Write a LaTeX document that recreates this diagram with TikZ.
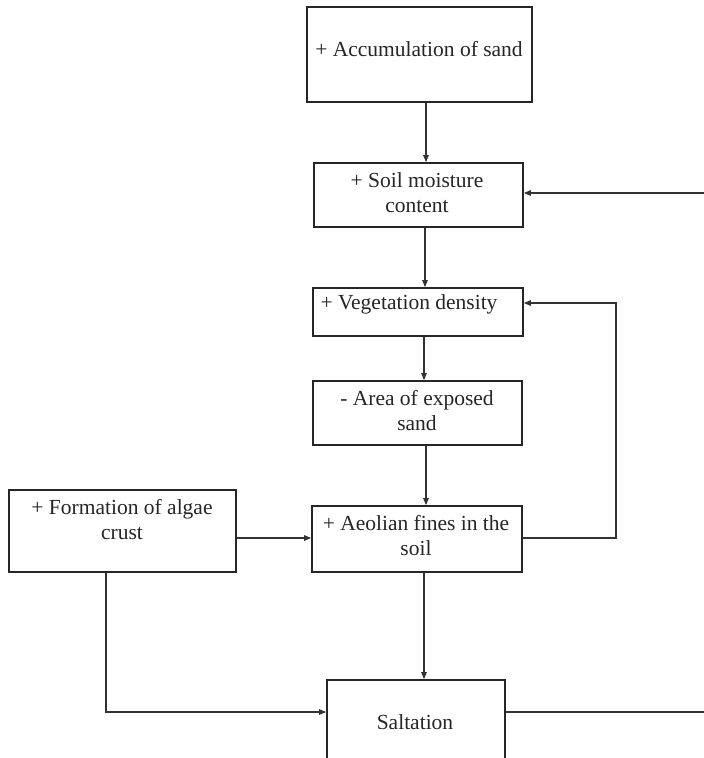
\documentclass[tikz,border=0pt]{standalone}
\usepackage{fontspec}
\setmainfont{Liberation Serif}
\usetikzlibrary{arrows.meta}
\begin{document}
\begin{tikzpicture}[x=1pt,y=-1pt,
  box/.style={draw=black!85, line width=1.7pt, inner sep=0pt, fill=none},
  lbl/.style={font=\fontsize{21.5}{25}\selectfont, align=center, inner sep=0pt, text=black!85},
  conn/.style={draw=black!80, line width=1.1pt, -{Triangle[length=7pt,width=5.5pt]}},
  link/.style={draw=black!80, line width=1.1pt}]
\clip (0,0) rectangle (704,758);
\fill[white] (0,0) rectangle (704,758);
% boxes
\node[box, minimum width=225pt, minimum height=95pt] (acc) at (419.5,54.5) {};
\node[box, minimum width=209pt, minimum height=64pt] (soil) at (418.5,195) {};
\node[box, minimum width=210pt, minimum height=48pt] (veg) at (418,312) {};
\node[box, minimum width=209pt, minimum height=64pt] (area) at (417.5,413) {};
\node[box, minimum width=210pt, minimum height=66pt] (aeol) at (417,539) {};
\node[box, minimum width=227pt, minimum height=82pt] (form) at (122.5,531) {};
\node[box, minimum width=178pt, minimum height=95pt] (salt) at (416,727.5) {};
% labels
\node[lbl] (accT) at (419,49) {+ Accumulation of sand};
\node[lbl] (soilT) at (417,193) {+ Soil moisture\\content};
\node[lbl] (vegT) at (409,304) {+ Vegetation density};
\node[lbl] (areaT) at (417,411) {- Area of exposed\\sand};
\node[lbl] (aeolT) at (416,536) {+ Aeolian fines in the\\soil};
\node[lbl] (formT) at (122,520) {+ Formation of algae\\crust};
\node[lbl] (saltT) at (415,722) {Saltation};
% coordinates for bends
\coordinate (r1) at (616,538);
\coordinate (r2) at (616,303);
\coordinate (f1) at (106,712);
\coordinate (s1) at (704.5,712);
\coordinate (s2) at (704.5,193);
% connectors
\draw[conn] (426,0 |- acc.south) -- (426,0 |- soil.north);
\draw[conn] (425,0 |- soil.south) -- (425,0 |- veg.north);
\draw[conn] (424,0 |- veg.south) -- (424,0 |- area.north);
\draw[conn] (426,0 |- area.south) -- (426,0 |- aeol.north);
\draw[conn] (424,0 |- aeol.south) -- (424,0 |- salt.north);
\draw[conn] (form.east |- r1) -- (aeol.west |- r1);
\draw[conn] (aeol.east |- r1) -- (r1) -- (r2) -- (veg.east |- r2);
\draw[conn] (form.south -| f1) -- (f1) -- (salt.west |- f1);
\draw[conn] (salt.east |- s1) -- (s1) -- (s2) -- (soil.east |- s2);
\end{tikzpicture}
\end{document}
